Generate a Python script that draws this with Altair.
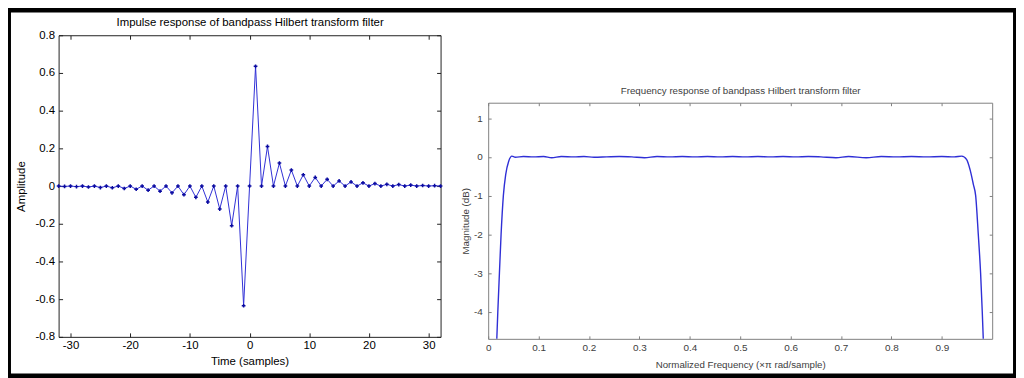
import altair as alt
import pandas as pd

# ---------------- data ----------------
SAMPLES = list(range(-32, 33))
AMPLITUDE = [
    0, -0.002, 0, -0.003, 0, -0.005, 0, -0.008, 0, -0.009, 0, -0.013, 0, -0.017, 0, -0.022,
    0, -0.027, 0, -0.036, 0, -0.046, 0, -0.060, 0, -0.085, 0, -0.122, 0, -0.210, 0, -0.635,
    0,
    0.635, 0, 0.210, 0, 0.122, 0, 0.085, 0, 0.060, 0, 0.046, 0, 0.036, 0, 0.027, 0,
    0.022, 0, 0.017, 0, 0.013, 0, 0.009, 0, 0.008, 0, 0.005, 0, 0.003, 0, 0.002, 0,
]

FREQ = [0.0171, 0.0191, 0.0223, 0.0256, 0.0301, 0.0348, 0.0407, 0.0472, 0.0537, 0.07,
        0.09, 0.11, 0.126, 0.145, 0.17, 0.19, 0.21, 0.235, 0.26, 0.285,
        0.31, 0.335, 0.36, 0.385, 0.41, 0.435, 0.46, 0.485, 0.51, 0.535,
        0.56, 0.585, 0.61, 0.635, 0.66, 0.69, 0.715, 0.75, 0.78, 0.81,
        0.84, 0.87, 0.9, 0.925, 0.9396, 0.9494, 0.9561, 0.9626, 0.9672, 0.9724,
        0.977, 0.9803, 0.9823]
MAG_DB = [-4.7, -4.0, -3.0, -2.0, -1.0, -0.45, -0.11, 0.02, -0.01, 0.01,
          0.0, 0.01, -0.02, 0.01, 0.0, 0.01, -0.01, 0.0, 0.01, 0.0,
          -0.02, 0.01, 0.0, 0.01, 0.0, 0.01, 0.0, 0.01, 0.0, 0.01,
          0.0, 0.01, 0.0, 0.01, 0.0, -0.02, 0.01, -0.02, 0.01, 0.0,
          0.01, 0.0, 0.01, 0.0, 0.02, -0.07, -0.33, -0.71, -1.0, -2.0,
          -3.0, -4.0, -4.7]

LEFT_X_TICKS = [-30, -20, -10, 0, 10, 20, 30]
LEFT_Y_TICKS = [-0.8, -0.6, -0.4, -0.2, 0, 0.2, 0.4, 0.6, 0.8]
RIGHT_X_TICKS = [0, 0.1, 0.2, 0.3, 0.4, 0.5, 0.6, 0.7, 0.8, 0.9]
RIGHT_Y_TICKS = [-4, -3, -2, -1, 0, 1]

LEFT_TITLE = "Impulse response of bandpass Hilbert transform filter"
LEFT_XLABEL = "Time (samples)"
LEFT_YLABEL = "Amplitude"
RIGHT_TITLE = "Frequency response of bandpass Hilbert transform filter"
RIGHT_XLABEL = "Normalized Frequency  (\u00d7\u03c0 rad/sample)"
RIGHT_YLABEL = "Magnitude (dB)"

# ---------------- layout ----------------
W, H = 1016, 370
FONT = "Liberation Sans"
MINUS = "replace(datum.label, '\u2212', '-')"
LINE_BLUE = "#2f2fd6"
MARK_BLUE = "#0a0aa0"

L_XR, L_YR = [51, 436], [330, 26]
R_XR, R_YR = [484, 992], [332, 94]

left_df = pd.DataFrame({"n": SAMPLES, "h": AMPLITUDE})
right_df = pd.DataFrame({"f": FREQ, "db": MAG_DB})


def ax(**kw):
    base = dict(grid=False, labelFont=FONT, titleFont=FONT, labelFlush=False,
                labelOverlap=False, titleFontWeight="normal")
    base.update(kw)
    return alt.Axis(**base)


def panel(df, xf, yf, xdom, ydom, xr, yr, xticks, yticks, title, xlabel, ylabel,
          fs_lab, fs_title, frame_col, text_col, tick, xlab_pad, ylab_pad,
          title_dy, xtitle_dy, ytitle_x, line_mark, point_mark=None):
    xs = alt.Scale(domain=xdom, range=xr, nice=False, zero=False, clamp=True)
    ys = alt.Scale(domain=ydom, range=yr, nice=False, zero=False, clamp=True)
    xc = (xr[0] + xr[1]) / 2
    yc = (yr[0] + yr[1]) / 2
    fmt = ".1~f"

    # layer 1: labelled bottom/left axes
    l1 = line_mark.encode(
        x=alt.X(f"{xf}:Q", scale=xs, axis=ax(
            orient="bottom", offset=yr[0] - H, values=xticks, ticks=False, tickSize=0,
            domain=True, domainColor=frame_col, labels=True, labelFontSize=fs_lab,
            labelColor=text_col, labelPadding=xlab_pad, format=fmt, labelExpr=MINUS,
            title=xlabel, titleX=xc, titleY=xtitle_dy, titleBaseline="middle",
            titleAlign="center", titleFontSize=fs_title, titleColor=text_col)),
        y=alt.Y(f"{yf}:Q", scale=ys, axis=ax(
            orient="left", offset=-xr[0], values=yticks, ticks=False, tickSize=0,
            domain=True, domainColor=frame_col, labels=True, labelFontSize=fs_lab,
            labelColor=text_col, labelPadding=ylab_pad, format=fmt, labelExpr=MINUS,
            title=ylabel, titleX=ytitle_x - xr[0], titleY=yc, titleAngle=270,
            titleBaseline="middle", titleAlign="center", titleFontSize=fs_title,
            titleColor=text_col)),
    )
    # layer 2: inward ticks on bottom and left
    m2 = point_mark if point_mark is not None else alt.Chart(df).mark_point(opacity=0)
    l2 = m2.encode(
        x=alt.X(f"{xf}:Q", scale=xs, axis=ax(
            orient="top", offset=-yr[0], values=xticks, ticks=True, tickSize=tick,
            tickColor=frame_col, domain=False, labels=False, title=None)),
        y=alt.Y(f"{yf}:Q", scale=ys, axis=ax(
            orient="right", offset=xr[0] - W, values=yticks, ticks=True, tickSize=tick,
            tickColor=frame_col, domain=False, labels=False, title=None)),
    )
    # layer 3: top/right frame with inward ticks
    l3 = alt.Chart(df).mark_point(opacity=0).encode(
        x=alt.X(f"{xf}:Q", scale=xs, axis=ax(
            orient="bottom", offset=yr[1] - H, values=xticks, ticks=True, tickSize=tick,
            tickColor=frame_col, domain=True, domainColor=frame_col, labels=False,
            title=None)),
        y=alt.Y(f"{yf}:Q", scale=ys, axis=ax(
            orient="left", offset=-xr[1], values=yticks, ticks=True, tickSize=tick,
            tickColor=frame_col, domain=True, domainColor=frame_col, labels=False,
            title=None)),
    )
    # layer 4: panel title as a top axis title
    l4 = alt.Chart(df).mark_point(opacity=0).encode(
        x=alt.X(f"{xf}:Q", scale=xs, axis=ax(
            orient="top", offset=-yr[1], values=xticks, ticks=False, tickSize=0,
            domain=False, labels=False, title=title, titleX=xc, titleY=title_dy,
            titleBaseline="middle", titleAlign="center", titleFontSize=fs_title,
            titleColor=text_col)),
        y=alt.Y(f"{yf}:Q", scale=ys, axis=None),
    )
    return [l3, l4, l1, l2]


left_layers = panel(
    left_df, "n", "h", [-32, 32], [-0.8, 0.8], L_XR, L_YR, LEFT_X_TICKS, LEFT_Y_TICKS,
    LEFT_TITLE, LEFT_XLABEL, LEFT_YLABEL, 11.5, 11.5, "#202020", "#000000", 4, 3, 4,
    -12.7, 24.7, 13.3,
    alt.Chart(left_df).mark_line(color=LINE_BLUE, strokeWidth=1),
    alt.Chart(left_df).mark_point(filled=True, shape="cross", size=14, color=MARK_BLUE,
                                  opacity=1),
)

right_layers = panel(
    right_df, "f", "db", [0, 1], [-4.7, 1.4], R_XR, R_YR, RIGHT_X_TICKS, RIGHT_Y_TICKS,
    RIGHT_TITLE, RIGHT_XLABEL, RIGHT_YLABEL, 10, 9.8, "#808080", "#404040", 3, 4, 6,
    -12, 26, 461,
    alt.Chart(right_df).mark_line(color=LINE_BLUE, strokeWidth=1.4, interpolate="monotone"),
)

chart = alt.layer(*left_layers, *right_layers).resolve_scale(
    x="independent", y="independent"
).resolve_axis(
    x="independent", y="independent"
).properties(
    width=W, height=H, padding=0,
    autosize=alt.AutoSizeParams(type="none"),
    background="white",
).configure_view(stroke="black", strokeWidth=6)

chart.save("out.html", embed_options={"renderer": "svg", "actions": False})
